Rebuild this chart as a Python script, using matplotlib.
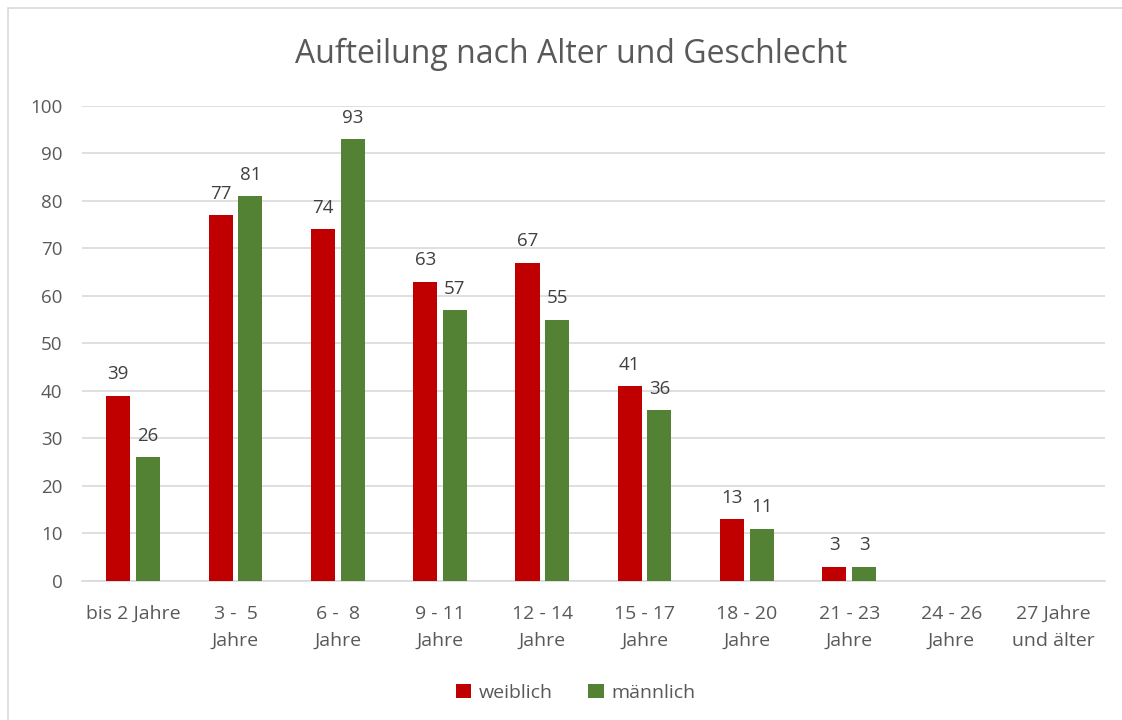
import matplotlib
matplotlib.use("Agg")
import matplotlib.pyplot as plt
import numpy as np
from matplotlib.patches import Rectangle

# data
categories = ["bis 2 Jahre", "3 -  5\nJahre", "6 -  8\nJahre", "9 - 11\nJahre", "12 - 14\nJahre",
              "15 - 17\nJahre", "18 - 20\nJahre", "21 - 23\nJahre", "24 - 26\nJahre", "27 Jahre\nund älter"]
weiblich = [39, 77, 74, 63, 67, 41, 13, 3, 0, 0]
maennlich = [26, 81, 93, 57, 55, 36, 11, 3, 0, 0]
yticks = [0, 10, 20, 30, 40, 50, 60, 70, 80, 90, 100]

grey = "#595959"
red = "#C00000"
green = "#548235"

plt.rcParams['font.family'] = ['Open Sans', 'DejaVu Sans']

fig = plt.figure(figsize=(11.22, 7.2), dpi=100)
ax = fig.add_axes([0.0731, 0.1931, 0.9117, 0.6597])

x = np.arange(len(categories))
w = 0.235
off = 0.145
b1 = ax.bar(x - off, weiblich, w, color=red, label="weiblich", zorder=3)
b2 = ax.bar(x + off, maennlich, w, color=green, label="männlich", zorder=3)

# value labels (skip the zero bars)
for bars, vals in ((b1, weiblich), (b2, maennlich)):
    for rect, v in zip(bars, vals):
        if v > 0:
            ax.text(rect.get_x() + rect.get_width() / 2, v + 2.6, str(v),
                    ha="center", va="bottom", fontsize=13.5, color="#404040")

ax.set_xlim(-0.5, len(categories) - 0.5)
ax.set_ylim(0, 100)
ax.set_yticks(yticks)
ax.set_xticks(x)
ax.set_xticklabels(categories, fontsize=14, color=grey, linespacing=1.65)
ax.tick_params(axis="y", labelsize=13.5, labelcolor=grey, length=0, pad=14)
ax.tick_params(axis="x", length=0, pad=17)
ax.yaxis.grid(True, color="#D9D9D9", linewidth=1.2, zorder=0)
for s in ["top", "right", "left"]:
    ax.spines[s].set_visible(False)
ax.spines["bottom"].set_color("#D9D9D9")
ax.spines["bottom"].set_linewidth(1.2)

fig.text(0.509, 0.925, "Aufteilung nach Alter und Geschlecht", ha="center", va="center",
         fontsize=23, color=grey)

fig.legend(loc="center", bbox_to_anchor=(0.513, 0.038), ncol=2, frameon=False,
           fontsize=14, labelcolor=grey, handlelength=0.8, handleheight=0.8,
           handletextpad=0.4, columnspacing=1.8)

# chart frame
fig.patches.append(Rectangle((8 / 1122, -0.05), 1.1, 1 - 8 / 720 + 0.05,
                             transform=fig.transFigure, fill=False,
                             edgecolor="#D9D9D9", linewidth=1.2))

fig.savefig("out.png", dpi=100)
